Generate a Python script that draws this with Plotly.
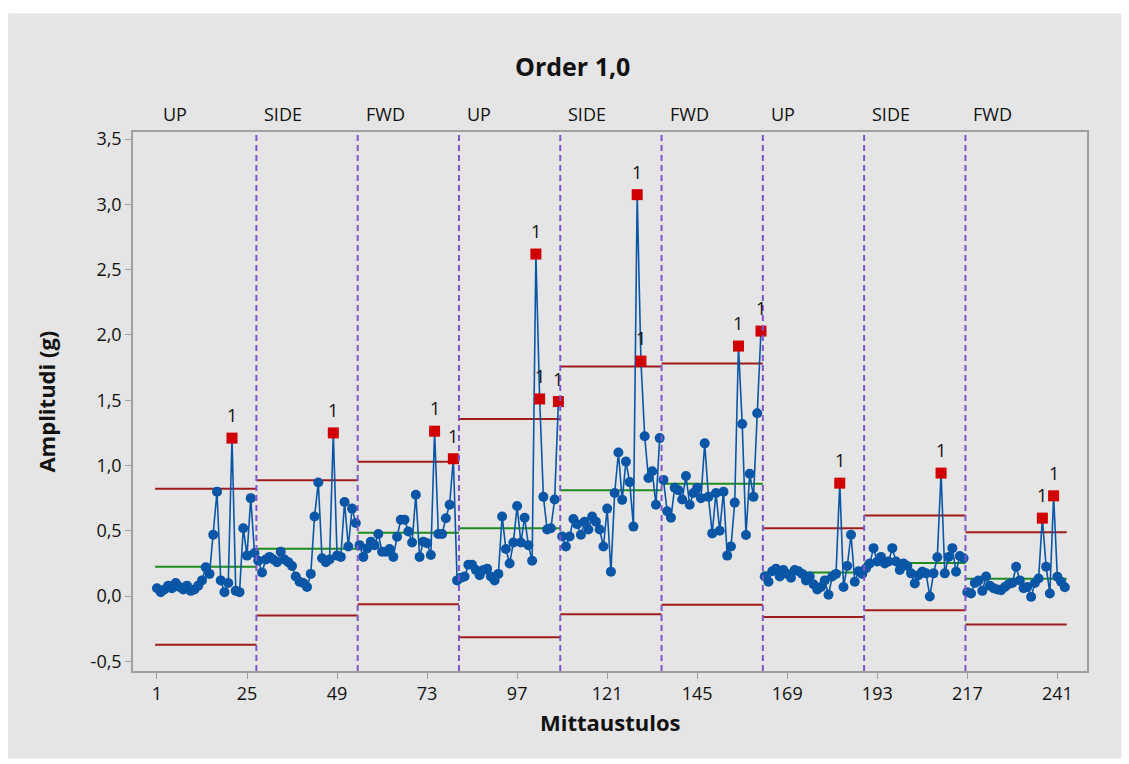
import plotly.graph_objects as go

# Individual measurements per stage (27 observations each)
up_1 = [0.06, 0.03, 0.05, 0.08, 0.06, 0.10, 0.07, 0.05, 0.08, 0.04, 0.05, 0.08, 0.12, 0.22,
        0.17, 0.47, 0.80, 0.12, 0.03, 0.10, 1.21, 0.04, 0.03, 0.52, 0.31, 0.75, 0.33]
side_1 = [0.27, 0.18, 0.28, 0.30, 0.28, 0.26, 0.34, 0.28, 0.26, 0.23, 0.15, 0.11, 0.10, 0.07,
          0.17, 0.61, 0.87, 0.29, 0.26, 0.28, 1.25, 0.31, 0.30, 0.72, 0.38, 0.67, 0.56]
fwd_1 = [0.39, 0.30, 0.365, 0.417, 0.39, 0.476, 0.34, 0.34, 0.36, 0.30, 0.455, 0.584, 0.584, 0.495,
         0.41, 0.776, 0.30, 0.417, 0.404, 0.315, 1.263, 0.476, 0.476, 0.596, 0.70, 1.052, 0.12]
up_2 = [0.14, 0.15, 0.24, 0.24, 0.20, 0.16, 0.20, 0.21, 0.15, 0.12, 0.17, 0.61, 0.36, 0.25,
        0.41, 0.69, 0.41, 0.60, 0.39, 0.27, 2.62, 1.51, 0.76, 0.51, 0.52, 0.74, 1.49]
side_2 = [0.456, 0.38, 0.456, 0.59, 0.55, 0.47, 0.57, 0.51, 0.61, 0.57, 0.51, 0.38, 0.67, 0.187,
          0.79, 1.10, 0.737, 1.03, 0.873, 0.532, 3.075, 1.80, 1.224, 0.904, 0.956, 0.70, 1.21]
fwd_2 = [0.89, 0.65, 0.60, 0.83, 0.81, 0.74, 0.92, 0.70, 0.79, 0.83, 0.75, 1.17, 0.76, 0.48,
         0.79, 0.50, 0.80, 0.31, 0.38, 0.716, 1.915, 1.318, 0.468, 0.937, 0.76, 1.40, 2.03]
up_3 = [0.15, 0.11, 0.19, 0.21, 0.15, 0.20, 0.17, 0.14, 0.20, 0.19, 0.17, 0.12, 0.15, 0.09,
        0.05, 0.07, 0.12, 0.01, 0.15, 0.17, 0.865, 0.07, 0.23, 0.47, 0.11, 0.19, 0.17]
side_3 = [0.213, 0.25, 0.367, 0.265, 0.30, 0.25, 0.265, 0.367, 0.265, 0.20, 0.25, 0.23, 0.174, 0.097,
          0.16, 0.187, 0.174, -0.003, 0.174, 0.297, 0.942, 0.174, 0.30, 0.367, 0.187, 0.307, 0.29]
fwd_3 = [0.03, 0.02, 0.10, 0.12, 0.04, 0.15, 0.08, 0.06, 0.05, 0.045, 0.07, 0.09, 0.10, 0.225,
         0.12, 0.06, 0.07, -0.006, 0.10, 0.135, 0.597, 0.225, 0.02, 0.768, 0.148, 0.11, 0.067]

stage_names = ["UP", "SIDE", "FWD", "UP", "SIDE", "FWD", "UP", "SIDE", "FWD"]
stage_data = [up_1, side_1, fwd_1, up_2, side_2, fwd_2, up_3, side_3, fwd_3]

# Control limits of each stage
center_line = [0.225, 0.362, 0.485, 0.520, 0.810, 0.861, 0.180, 0.254, 0.133]
upper_limit = [0.822, 0.887, 1.028, 1.357, 1.759, 1.782, 0.520, 0.617, 0.489]
lower_limit = [-0.372, -0.148, -0.062, -0.316, -0.139, -0.066, -0.160, -0.109, -0.218]

x_ticks = [1, 25, 49, 73, 97, 121, 145, 169, 193, 217, 241]
y_ticks = [-0.5, 0.0, 0.5, 1.0, 1.5, 2.0, 2.5, 3.0, 3.5]
y_tick_text = ["-0,5", "0,0", "0,5", "1,0", "1,5", "2,0", "2,5", "3,0", "3,5"]

FONT = "Open Sans, Noto Sans, DejaVu Sans, sans-serif"
BLUE = "#0A56A6"
RED_PT = "#D10000"
LIMIT = "#9E1C1C"
CL_COL = "#1E8C1E"
STAGE_LINE = "#7E57C8"

# Build series with gaps between stages
xs, ys = [], []
ox, oy = [], []
ucl_x, ucl_y, lcl_x, lcl_y, cl_x, cl_y = [], [], [], [], [], []
bounds = []
start = 1
for vals, cl, ucl, lcl in zip(stage_data, center_line, upper_limit, lower_limit):
    n = len(vals)
    idx = list(range(start, start + n))
    xs += idx + [None]
    ys += vals + [None]
    for i, v in zip(idx, vals):
        if v > ucl:
            ox.append(i)
            oy.append(v)
    lo, hi = start - 0.5, start + n - 0.5
    ucl_x += [lo, hi, None]; ucl_y += [ucl, ucl, None]
    lcl_x += [lo, hi, None]; lcl_y += [lcl, lcl, None]
    cl_x += [lo, hi, None]; cl_y += [cl, cl, None]
    bounds.append((lo, hi))
    start += n

fig = go.Figure()
fig.add_trace(go.Scatter(x=ucl_x, y=ucl_y, mode="lines", line=dict(color=LIMIT, width=2),
                         hoverinfo="skip", showlegend=False))
fig.add_trace(go.Scatter(x=lcl_x, y=lcl_y, mode="lines", line=dict(color=LIMIT, width=2),
                         hoverinfo="skip", showlegend=False))
fig.add_trace(go.Scatter(x=cl_x, y=cl_y, mode="lines", line=dict(color=CL_COL, width=2),
                         hoverinfo="skip", showlegend=False))
fig.add_trace(go.Scatter(x=xs, y=ys, mode="lines+markers",
                         line=dict(color=BLUE, width=1.6),
                         marker=dict(color=BLUE, size=10, symbol="circle"),
                         showlegend=False))
fig.add_trace(go.Scatter(x=ox, y=oy, mode="markers",
                         marker=dict(color=RED_PT, size=11, symbol="square"),
                         showlegend=False))

shapes = []
# light gray panel behind the chart
shapes.append(dict(type="rect", xref="paper", yref="paper",
                   x0=(8 - 133) / 954.6, x1=(1122 - 133) / 954.6,
                   y0=-(758 - 670.7) / 538.4, y1=1 + (132.3 - 14) / 538.4,
                   fillcolor="#E5E5E5", line=dict(width=0), layer="below"))
for lo, hi in bounds[1:]:
    shapes.append(dict(type="line", xref="x", yref="paper", x0=lo, x1=lo, y0=0, y1=1,
                       line=dict(color=STAGE_LINE, width=2, dash="6px,4px")))

annotations = []
for (lo, hi), name in zip(bounds, stage_names):
    annotations.append(dict(x=lo, y=1.0, xref="x", yref="paper", text=name, showarrow=False,
                            xanchor="left", yanchor="bottom", xshift=6, yshift=4,
                            font=dict(family=FONT, size=18, color="#111111")))
for x, y in zip(ox, oy):
    annotations.append(dict(x=x, y=y, xref="x", yref="y", text="1", showarrow=False,
                            yshift=23, font=dict(family=FONT, size=18, color="#111111")))
annotations.append(dict(x=(573 - 133) / 954.6, y=1 + (132.3 - 66) / 538.4, xref="paper", yref="paper",
                        text="<b>Order 1,0</b>", showarrow=False,
                        xanchor="center", yanchor="middle",
                        font=dict(family=FONT, size=25, color="#111111")))
annotations.append(dict(x=0.5, y=-(722 - 670.7) / 538.4, xref="paper", yref="paper",
                        text="<b>Mittaustulos</b>", showarrow=False,
                        xanchor="center", yanchor="middle",
                        font=dict(family=FONT, size=22, color="#111111")))
annotations.append(dict(x=(45 - 133) / 954.6, y=0.5, xref="paper", yref="paper",
                        text="<b>Amplitudi (g)</b>", showarrow=False, textangle=-90,
                        xanchor="center", yanchor="middle",
                        font=dict(family=FONT, size=22, color="#111111")))

fig.update_layout(
    width=1129, height=764,
    margin=dict(l=133, r=42, t=132, b=93),
    paper_bgcolor="white", plot_bgcolor="white",
    font=dict(family=FONT, size=18, color="#111111"),
    shapes=shapes, annotations=annotations,
    showlegend=False,
)
fig.update_xaxes(range=[-5.39, 248.9], tickvals=x_ticks, ticktext=[str(t) for t in x_ticks],
                 showgrid=False, zeroline=False, showline=True, mirror=True,
                 linecolor="#A0A0A0", linewidth=1.5, ticks="outside", ticklen=6,
                 tickcolor="#A0A0A0", tickfont=dict(family=FONT, size=18, color="#111111"))
fig.update_yaxes(range=[-0.574, 3.555], tickvals=y_ticks, ticktext=y_tick_text,
                 showgrid=False, zeroline=False, showline=True, mirror=True,
                 linecolor="#A0A0A0", linewidth=1.5, ticks="outside", ticklen=6,
                 tickcolor="#A0A0A0", tickfont=dict(family=FONT, size=18, color="#111111"))

fig.write_html("out.html")
